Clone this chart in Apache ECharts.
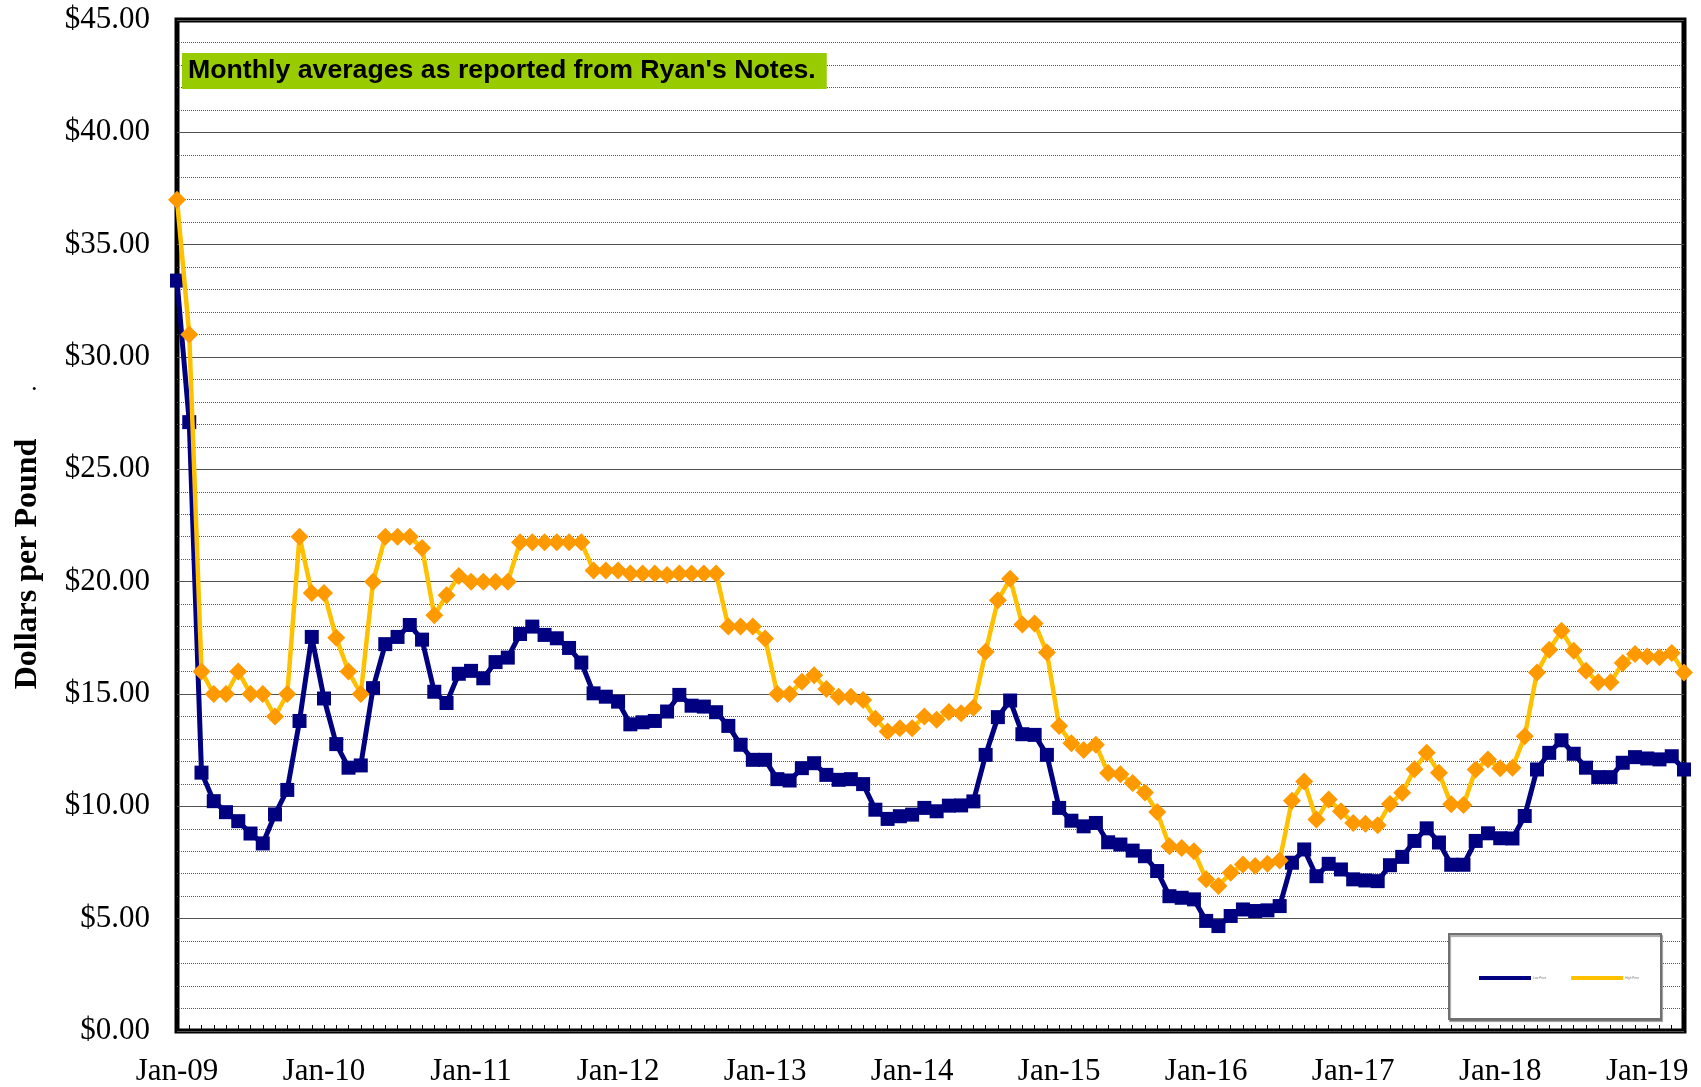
<!DOCTYPE html>
<html>
<head>
<meta charset="utf-8">
<script src="https://cdn.jsdelivr.net/npm/echarts@6/dist/echarts.min.js"></script>
<style>
  html, body { margin: 0; padding: 0; background: #fff; }
  #chart { width: 1701px; height: 1087px; }
</style>
</head>
<body>
<div id="chart"></div>
<script>
// month categories, Jan-09 .. Apr-19
const years = ['09', '10', '11', '12', '13', '14', '15', '16', '17', '18', '19'];
const monthNames = ['Jan', 'Feb', 'Mar', 'Apr', 'May', 'Jun', 'Jul', 'Aug', 'Sep', 'Oct', 'Nov', 'Dec'];
const months = [];
years.forEach(y => monthNames.forEach(m => months.push(m + '-' + y)));
months.length = 124;

const tickLabels = ['Jan-09', 'Jan-10', 'Jan-11', 'Jan-12', 'Jan-13', 'Jan-14',
    'Jan-15', 'Jan-16', 'Jan-17', 'Jan-18', 'Jan-19'];

// navy squares
const lowPrice = [
    33.4, 27.1, 11.5, 10.23, 9.74, 9.34, 8.79, 8.35, 9.64, 10.73, 13.8, 17.54,
    14.8, 12.77, 11.72, 11.82, 15.26, 17.22, 17.54, 18.07, 17.42, 15.1, 14.6, 15.9,
    16.03, 15.7, 16.42, 16.62, 17.67, 18.0, 17.63, 17.48, 17.05, 16.4, 15.03, 14.88,
    14.66, 13.65, 13.74, 13.8, 14.22, 14.96, 14.48, 14.44, 14.19, 13.58, 12.74, 12.07,
    12.07, 11.21, 11.15, 11.7, 11.92, 11.4, 11.18, 11.21, 10.99, 9.85, 9.44, 9.56,
    9.63, 9.93, 9.78, 10.03, 10.04, 10.22, 12.29, 13.97, 14.71, 13.21, 13.18, 12.29,
    9.93, 9.36, 9.11, 9.26, 8.4, 8.3, 8.03, 7.78, 7.12, 6.0, 5.93, 5.86,
    4.9, 4.67, 5.12, 5.41, 5.34, 5.37, 5.56, 7.49, 8.08, 6.89, 7.44, 7.19,
    6.75, 6.7, 6.67, 7.38, 7.75, 8.46, 9.02, 8.39, 7.4, 7.4, 8.46, 8.8,
    8.58, 8.57, 9.57, 11.64, 12.38, 12.94, 12.34, 11.72, 11.3, 11.3, 11.94, 12.19,
    12.13, 12.09, 12.23, 11.64
];

// orange diamonds
const highPrice = [
    37.0, 31.0, 16.0, 15.0, 15.0, 16.0, 15.0, 15.0, 14.0, 15.0, 22.0, 19.5,
    19.5, 17.5, 16.0, 15.0, 20.0, 22.0, 22.0, 22.0, 21.5, 18.5, 19.4, 20.25,
    20.0, 20.0, 20.0, 20.0, 21.75, 21.75, 21.75, 21.75, 21.75, 21.75, 20.5, 20.5,
    20.5, 20.36, 20.36, 20.36, 20.3, 20.36, 20.36, 20.36, 20.36, 18.0, 18.0, 18.0,
    17.47, 15.0, 15.0, 15.55, 15.84, 15.22, 14.88, 14.88, 14.73, 13.9, 13.33, 13.48,
    13.48, 14.0, 13.85, 14.2, 14.14, 14.39, 16.88, 19.17, 20.13, 18.09, 18.14, 16.85,
    13.58, 12.81, 12.51, 12.74, 11.48, 11.43, 11.04, 10.62, 9.75, 8.22, 8.15, 8.0,
    6.75, 6.45, 7.04, 7.41, 7.34, 7.44, 7.59, 10.25, 11.11, 9.41, 10.3, 9.78,
    9.26, 9.22, 9.16, 10.1, 10.6, 11.65, 12.38, 11.49, 10.09, 10.06, 11.64, 12.09,
    11.69, 11.72, 13.12, 15.96, 16.97, 17.81, 16.92, 16.04, 15.52, 15.52, 16.38, 16.78,
    16.67, 16.64, 16.82, 15.96
];

const serif = '"Liberation Serif", "Times New Roman", serif';
const chart = echarts.init(document.getElementById('chart'));

chart.setOption({
    animation: false,
    backgroundColor: '#fff',
    title: {
        text: "Monthly averages as reported from Ryan's Notes.",
        left: 182,
        top: 53,
        backgroundColor: '#99CC00',
        padding: [4, 11, 4, 6],
        textStyle: {
            fontFamily: '"Liberation Sans", Arial, sans-serif',
            fontWeight: 'bold',
            fontSize: 26.7,
            lineHeight: 28,
            color: '#000'
        }
    },
    grid: {
        left: 177,
        right: 17,
        top: 20,
        bottom: 54,
        show: true,
        borderColor: '#000',
        borderWidth: 5,
        backgroundColor: 'transparent'
    },
    legend: {
        left: 1474,
        top: 971,
        icon: 'rect',
        itemWidth: 52,
        itemHeight: 4,
        itemGap: 25,
        textStyle: { fontSize: 3, color: '#777', padding: [0, 0, 0, -3] },
        data: [
            { name: 'Low Price', itemStyle: { color: '#000080' } },
            { name: 'High Price', itemStyle: { color: '#FFC000' } }
        ],
        z: 10
    },
    graphic: [
        {
            type: 'rect',
            left: 1448,
            top: 933,
            shape: { width: 212, height: 85 },
            style: {
                fill: '#fff',
                stroke: '#707070',
                lineWidth: 2,
                shadowColor: 'rgba(0,0,0,0.35)',
                shadowOffsetX: 1,
                shadowOffsetY: 2,
                shadowBlur: 1
            },
            z: 5
        },
        {
            type: 'text',
            x: 28,
            y: 564,
            rotation: Math.PI / 2,
            style: {
                text: 'Dollars per Pound',
                fontFamily: serif,
                fontWeight: 'bold',
                fontSize: 32,
                fill: '#000',
                align: 'center',
                verticalAlign: 'middle'
            }
        },
        {
            type: 'text',
            left: 31,
            top: 370,
            style: { text: '.', fontSize: 26, fontFamily: serif, fill: '#000' }
        }
    ],
    xAxis: {
        type: 'category',
        data: months,
        boundaryGap: false,
        axisLine: { show: false },
        axisTick: {
            show: true,
            inside: true,
            length: 6,
            interval: 0,
            lineStyle: { color: '#000', width: 1 }
        },
        axisLabel: {
            interval: (i, v) => tickLabels.includes(v),
            margin: 25,
            fontFamily: serif,
            fontSize: 31,
            color: '#000'
        },
        splitLine: { show: false }
    },
    yAxis: {
        type: 'value',
        min: 0,
        max: 45,
        interval: 5,
        axisLine: { show: false },
        axisTick: { show: false },
        axisLabel: {
            margin: 27,
            fontFamily: serif,
            fontSize: 31,
            color: '#000',
            formatter: v => '$' + v.toFixed(2)
        },
        splitLine: { show: true, lineStyle: { color: '#505050', width: 1.2 } },
        minorTick: { show: false, splitNumber: 5 },
        minorSplitLine: { show: true, lineStyle: { color: '#555', width: 1, type: 'dotted' } }
    },
    series: [
        {
            name: 'Low Price',
            type: 'line',
            data: lowPrice,
            symbol: 'rect',
            symbolSize: 14,
            showAllSymbol: true,
            itemStyle: { color: '#000080' },
            lineStyle: { color: '#000080', width: 5 },
            z: 3
        },
        {
            name: 'High Price',
            type: 'line',
            data: highPrice,
            symbol: 'diamond',
            symbolSize: 18,
            showAllSymbol: true,
            itemStyle: { color: '#FF9900' },
            lineStyle: { color: '#FFC000', width: 4.5 },
            z: 4
        }
    ]
});
</script>
</body>
</html>
